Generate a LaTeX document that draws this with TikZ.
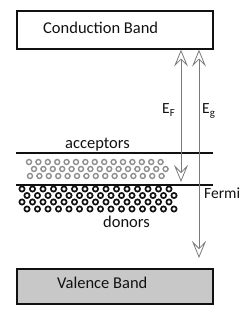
\documentclass[tikz,border=0pt]{standalone}
\usepackage{fontspec}
\setmainfont{Carlito}
\usepackage{tikz}
\usetikzlibrary{arrows.meta,positioning,calc}
\definecolor{ink}{HTML}{111111}
\definecolor{arrgray}{HTML}{7A7A7A}
\definecolor{dotgray}{HTML}{8E8E8E}
\definecolor{valfill}{HTML}{C8C8C8}
\tikzset{
  bandbox/.style={draw=ink,line width=1.7pt,minimum width=196pt,minimum height=38pt,
                  inner sep=0pt,anchor=north west},
  bandtext/.style={font=\fontsize{16.5}{19}\selectfont,text=ink,inner sep=0pt,anchor=base west},
  symtext/.style={font=\fontsize{15.5}{18}\selectfont,text=ink,inner sep=0pt,anchor=base west},
  levelline/.style={draw=ink,line width=1.5pt},
  gaparr/.style={{Stealth[open,length=17pt,width=14pt,inset=7pt,fill=white]}-{Stealth[open,length=17pt,width=14pt,inset=7pt,fill=white]},
                 draw=arrgray,line width=0.8pt},
  acceptdot/.style={draw=dotgray,line width=1.4pt},
  donordot/.style={draw=ink,line width=1.7pt}
}
\begin{document}
\begin{tikzpicture}[x=1pt,y=-1pt]
  \useasboundingbox (0,0) rectangle (250,320);

  % Bands
  \node[bandbox] (cb) at (16,10) {};
  \node[bandbox,fill=valfill,minimum height=35pt] (vb) at (16,268) {};
  \node[bandtext] (cblabel) at (43,34) {Conduction Band};
  \node[bandtext] (vblabel) at (57,288) {Valence Band};

  % Impurity levels
  \draw[levelline] (16,153) -- (213,153);
  \draw[levelline] (16,185) -- (213,185);
  \node[bandtext] (acclabel) at (65,149) {acceptors};
  \node[bandtext,font=\fontsize{15.5}{18}\selectfont] (fermilabel) at (204,198) {Fermi};
  \node[bandtext] (donlabel) at (103,227) {donors};

  % Acceptor states
  \foreach \i in {0,...,14} {
    \draw[acceptdot] (29+9.4*\i,162) circle (2.5);
    \draw[acceptdot] (34+9.4*\i,169) circle (2.5);
    \draw[acceptdot] (30+9.4*\i,176) circle (2.5);
  }
  % Donor states
  \foreach \i in {0,...,14} {
    \draw[donordot] (22+10.5*\i,189) circle (2.6);
    \draw[donordot] (27+10.5*\i,195.5) circle (2.6);
    \draw[donordot] (22+10.5*\i,202) circle (2.6);
    \draw[donordot] (27+10.5*\i,209) circle (2.6);
  }

  % Energy arrows
  \coordinate (eftop) at (cb.south -| 181,0);
  \coordinate (efbot) at (181,182);
  \coordinate (egtop) at (cb.south -| 199,0);
  \coordinate (egbot) at (199,258);
  \draw[gaparr] (eftop) -- (efbot);
  \draw[gaparr] (egtop) -- (egbot);
  \node[symtext] (eflabel) at (162,114) {E\textsubscript{F}};
  \node[symtext] (eglabel) at (202,114) {E\textsubscript{g}};
\end{tikzpicture}
\end{document}
